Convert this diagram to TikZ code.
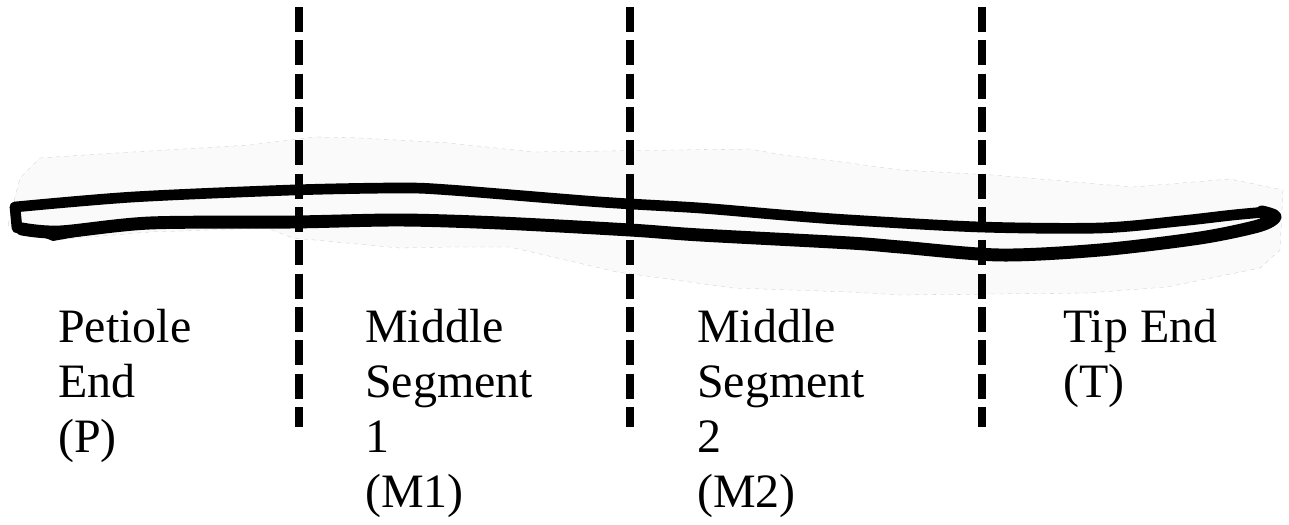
\documentclass[tikz,border=0pt]{standalone}
\usepackage{fontspec}
\setmainfont{Liberation Serif}
\usetikzlibrary{positioning}

\definecolor{leafFill}{HTML}{FAFAFA}
\definecolor{leafEdge}{HTML}{C8C8C8}

\tikzset{
  cutLine/.style={black, line width=5.7pt, dash pattern=on 17.8pt off 5.9pt},
  segLabel/.style={anchor=north west, inner sep=0pt, align=left,
    font=\fontsize{34.1}{39.2}\selectfont},
  veinUpper/.style={black, line width=7.6pt, line join=round, line cap=round},
  veinLower/.style={black, line width=9.2pt, line join=round, line cap=round}
}

\begin{document}
\begin{tikzpicture}[x=0.025cm, y=-0.025cm]
\useasboundingbox (0,0) rectangle (1289,525);

% scanned leaf strip
\draw[leafEdge, very thin, dashed, fill=leafFill]
  (8,225) -- (20,178) -- (40,158) -- (100,154) -- (250,145) -- (315,137)
  -- (360,138) -- (450,143) -- (533,152) -- (750,149) -- (783,155)
  -- (850,163) -- (900,170) -- (993,175) -- (1133,187) -- (1230,179)
  -- (1283,190) -- (1280,250) -- (1260,268) -- (1167,287) -- (1087,293)
  -- (900,295) -- (850,292) -- (733,288) -- (617,272) -- (510,247)
  -- (450,247) -- (400,248) -- (293,238) -- (267,228) -- (150,232)
  -- (53,240) -- (20,232) -- cycle;

% outline of the leaf blade
\draw[veinUpper] plot[smooth] coordinates {
  (15,207) (133,197) (293,190) (400,188) (450,190) (600,202) (700,208)
  (783,215) (850,220) (980,227) (1100,228) (1180,221) (1233,215) (1266,212)};
\draw[veinLower] plot[smooth] coordinates {
  (1262,212) (1275,217) (1258,226) (1200,238) (1100,250) (1000,255)
  (900,247) (850,243) (700,235) (630,230) (500,223) (400,220) (293,222)
  (150,223) (60,232) (22,229)};
\draw[veinUpper] (15,207) -- (17,228);
\fill[black] (20,228) -- (60,227) -- (120,229) -- (53,241) -- cycle;

% cuts between the segments
\coordinate (cutOneTop) at (299,7);
\coordinate (cutOneBot) at (299,427);
\coordinate (cutTwoTop) at (630,7);
\coordinate (cutTwoBot) at (630,427);
\coordinate (cutThreeTop) at (982,7);
\coordinate (cutThreeBot) at (982,427);
\draw[cutLine] (cutOneTop) -- (cutOneBot);
\draw[cutLine] (cutTwoTop) -- (cutTwoBot);
\draw[cutLine] (cutThreeTop) -- (cutThreeBot);

\node[segLabel] (petioleLabel) at (58,309) {Petiole\\End\\(P)};
\node[segLabel] (midOneLabel) at (365,309) {Middle\\Segment\\1\\(M1)};
\node[segLabel] (midTwoLabel) at (697,309) {Middle\\Segment\\2\\(M2)};
\node[segLabel] (tipLabel) at (1063,309) {Tip End\\(T)};

\end{tikzpicture}
\end{document}
